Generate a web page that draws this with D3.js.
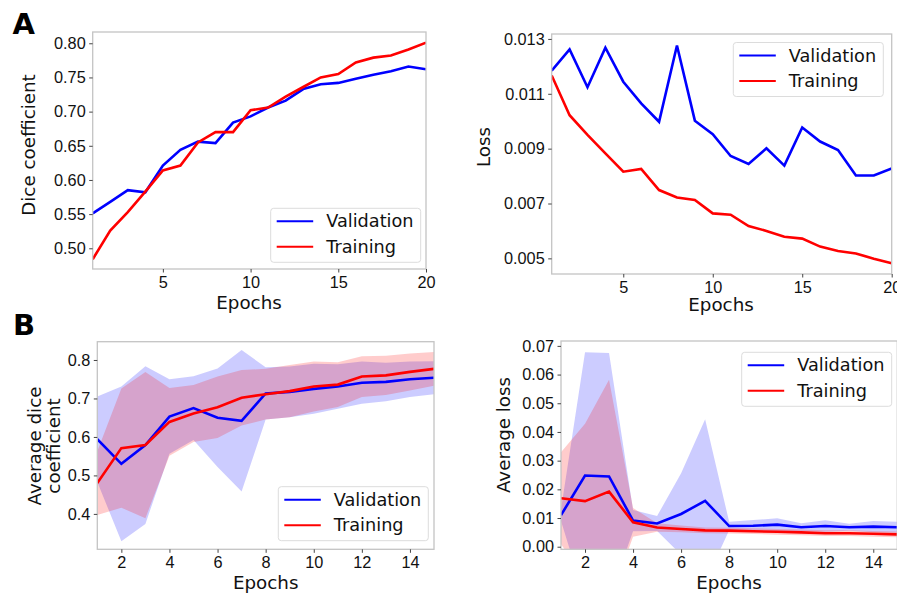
<!DOCTYPE html>
<html>
<head>
<meta charset="utf-8">
<script src="https://cdn.jsdelivr.net/npm/d3@7"></script>
<style>
  body { margin: 0; background: #fff; }
  svg { font-family: "DejaVu Sans", sans-serif; }
</style>
</head>
<body>
<div id="chart"></div>
<script>
// epochs
const epochsA = [1, 2, 3, 4, 5, 6, 7, 8, 9, 10, 11, 12, 13, 14, 15, 16, 17, 18, 19, 20];
const epochsB = [1, 2, 3, 4, 5, 6, 7, 8, 9, 10, 11, 12, 13, 14, 15];

// panel A, left: dice coefficient
const diceVal = [0.551, 0.568, 0.585, 0.582, 0.621, 0.644, 0.656, 0.654, 0.684, 0.693,
  0.706, 0.716, 0.733, 0.740, 0.742, 0.748, 0.754, 0.759, 0.766, 0.762];
const diceTrain = [0.484, 0.526, 0.553, 0.583, 0.614, 0.621, 0.655, 0.670, 0.670, 0.702,
  0.706, 0.722, 0.736, 0.750, 0.755, 0.772, 0.779, 0.782, 0.791, 0.801];

// panel A, right: loss
const lossVal = [0.01184, 0.01262, 0.01124, 0.01268, 0.01144, 0.01065, 0.00998, 0.01276, 0.01002, 0.00953,
  0.00873, 0.00844, 0.00901, 0.00838, 0.00977, 0.00926, 0.00895, 0.00802, 0.00802, 0.00828];
const lossTrain = [0.01167, 0.01022, 0.0095, 0.00883, 0.00816, 0.00826, 0.00749, 0.00722, 0.00713, 0.00664,
  0.00659, 0.00618, 0.006, 0.00579, 0.00572, 0.00543, 0.00527, 0.00518, 0.00499, 0.00482];

// panel B, left: average dice (mean and spread)
const avgDiceVal = [0.594, 0.530, 0.579, 0.653, 0.675, 0.650, 0.642, 0.713, 0.717, 0.725, 0.731, 0.741, 0.743, 0.750, 0.754];
const avgDiceValSd = [0.111, 0.201, 0.205, 0.097, 0.083, 0.128, 0.184, 0.068, 0.066, 0.065, 0.058, 0.055, 0.050, 0.046, 0.043];
const avgDiceTrain = [0.480, 0.571, 0.579, 0.639, 0.661, 0.677, 0.702, 0.711, 0.719, 0.731, 0.736, 0.757, 0.760, 0.769, 0.777];
const avgDiceTrainSd = [0.083, 0.155, 0.190, 0.088, 0.074, 0.080, 0.072, 0.066, 0.068, 0.065, 0.058, 0.053, 0.051, 0.048, 0.044];

// panel B, right: average loss (mean and spread)
const avgLossVal = [0.0110, 0.0248, 0.0245, 0.0091, 0.0081, 0.0114, 0.0160, 0.0072, 0.0073, 0.0077, 0.0068, 0.0072, 0.0068, 0.0070, 0.0068];
const avgLossValSd = [0.002, 0.043, 0.043, 0.0037, 0.0026, 0.0142, 0.0284, 0.0015, 0.002, 0.0022, 0.0014, 0.002, 0.0012, 0.002, 0.0019];
const avgLossTrain = [0.0169, 0.0159, 0.0192, 0.0085, 0.0067, 0.0062, 0.0057, 0.0056, 0.0054, 0.0052, 0.0050, 0.0047, 0.0047, 0.0045, 0.0043];
const avgLossTrainSd = [0.016, 0.027, 0.039, 0.005, 0.0015, 0.0012, 0.001, 0.001, 0.001, 0.001, 0.001, 0.001, 0.001, 0.001, 0.001];

const ticksA = [5, 10, 15, 20];
const ticksB = [2, 4, 6, 8, 10, 12, 14];
const diceTicks = [0.50, 0.55, 0.60, 0.65, 0.70, 0.75, 0.80];
const lossTicks = [0.005, 0.007, 0.009, 0.011, 0.013];
const avgDiceTicks = [0.4, 0.5, 0.6, 0.7, 0.8];
const avgLossTicks = [0.00, 0.01, 0.02, 0.03, 0.04, 0.05, 0.06, 0.07];

const seriesNames = ['Validation', 'Training'];

const w = 897;
const h = 593;
const BLUE = '#0000ff';
const RED = '#ff0000';

const svg = d3.select('#chart')
  .append('svg')
  .attr('width', w)
  .attr('height', h);

let clipId = 0;

function drawPanel(p) {
  const x = d3.scaleLinear().domain(p.xDomain).range(p.xRange);
  const y = d3.scaleLinear().domain(p.yDomain).range(p.yRange);
  const g = svg.append('g');

  const id = 'clip' + (clipId++);
  svg.append('clipPath').attr('id', id)
    .append('rect')
    .attr('x', p.xRange[0]).attr('y', p.yRange[1])
    .attr('width', p.xRange[1] - p.xRange[0])
    .attr('height', p.yRange[0] - p.yRange[1]);

  const plot = g.append('g').attr('clip-path', `url(#${id})`);

  // shaded bands first (validation then training)
  if (p.bands) {
    const area = d3.area()
      .x((d) => x(d.e))
      .y0((d) => y(d.m - d.s))
      .y1((d) => y(d.m + d.s));
    p.bands.forEach((b) => {
      const rows = p.epochs.map((e, i) => ({ e: e, m: b.mean[i], s: b.sd[i] }));
      plot.append('path')
        .datum(rows)
        .attr('d', area)
        .attr('fill', b.color)
        .attr('fill-opacity', 0.2);
    });
  }

  const line = d3.line()
    .x((d) => x(d.e))
    .y((d) => y(d.v));

  p.lines.forEach((l) => {
    plot.append('path')
      .datum(p.epochs.map((e, i) => ({ e: e, v: l.values[i] })))
      .attr('d', line)
      .attr('fill', 'none')
      .attr('stroke', l.color)
      .attr('stroke-width', 2.6)
      .attr('stroke-linejoin', 'miter');
  });

  // frame
  g.append('rect')
    .attr('x', p.xRange[0]).attr('y', p.yRange[1])
    .attr('width', p.xRange[1] - p.xRange[0])
    .attr('height', p.yRange[0] - p.yRange[1])
    .attr('fill', 'none')
    .attr('stroke', '#c4c4c4')
    .attr('stroke-width', 1.3);

  const xAxis = d3.axisBottom(x)
    .tickValues(p.xTicks)
    .tickSize(3.5)
    .tickPadding(3.5)
    .tickSizeOuter(0)
    .tickFormat(d3.format('d'));

  const yAxis = d3.axisLeft(y)
    .tickValues(p.yTicks)
    .tickSize(3.5)
    .tickPadding(3.5)
    .tickSizeOuter(0)
    .tickFormat(d3.format(p.yFormat));

  const gx = g.append('g')
    .attr('transform', `translate(0,${p.yRange[0]})`)
    .call(xAxis);
  const gy = g.append('g')
    .attr('transform', `translate(${p.xRange[0]},0)`)
    .call(yAxis);

  [gx, gy].forEach((ax) => {
    ax.select('.domain').remove();
    ax.selectAll('.tick line').attr('stroke', '#444');
    ax.selectAll('.tick text')
      .attr('fill', '#111')
      .style('font-size', '16.3px');
  });

  g.append('text')
    .attr('x', p.xLabelPos[0])
    .attr('y', p.xLabelPos[1])
    .attr('text-anchor', 'middle')
    .attr('fill', '#111')
    .style('font-size', '18.3px')
    .text('Epochs');

  const yl = g.append('text')
    .attr('transform', `translate(${p.yLabelPos[0]},${p.yLabelPos[1]}) rotate(-90)`)
    .attr('text-anchor', 'middle')
    .attr('fill', '#111')
    .style('font-size', '18.3px');
  p.yLabel.forEach((t, i) => {
    yl.append('tspan')
      .attr('x', 0)
      .attr('dy', i === 0 ? 0 : 18.5)
      .text(t);
  });

  // legend
  const lg = g.append('g').attr('transform', `translate(${p.legend[0]},${p.legend[1]})`);
  lg.append('rect')
    .attr('width', 150).attr('height', 54)
    .attr('rx', 3)
    .attr('fill', '#fff').attr('fill-opacity', 0.8)
    .attr('stroke', '#dcdcdc').attr('stroke-width', 1);
  seriesNames.forEach((name, i) => {
    const cy = 13 + i * 25.5;
    lg.append('line')
      .attr('x1', 6).attr('x2', 42.5)
      .attr('y1', cy).attr('y2', cy)
      .attr('stroke', i === 0 ? BLUE : RED)
      .attr('stroke-width', 2);
    lg.append('text')
      .attr('x', 55.5).attr('y', cy + 6.2)
      .attr('fill', '#111')
      .style('font-size', '17.7px')
      .text(name);
  });
}

drawPanel({
  epochs: epochsA,
  xDomain: [1, 20], xRange: [92.7, 426],
  yDomain: [0.4697, 0.8165], yRange: [269, 32],
  xTicks: ticksA, yTicks: diceTicks, yFormat: '.2f',
  lines: [{ values: diceVal, color: BLUE }, { values: diceTrain, color: RED }],
  xLabelPos: [249, 308.5], yLabel: ['Dice coefficient'], yLabelPos: [34.5, 145],
  legend: [270.7, 208.3]
});

drawPanel({
  epochs: epochsA,
  xDomain: [1, 20], xRange: [551.7, 891.7],
  yDomain: [0.00443, 0.01318], yRange: [274, 34],
  xTicks: ticksA, yTicks: lossTicks, yFormat: '.3f',
  lines: [{ values: lossVal, color: BLUE }, { values: lossTrain, color: RED }],
  xLabelPos: [721, 310.5], yLabel: ['Loss'], yLabelPos: [490, 147],
  legend: [733.3, 42.5]
});

drawPanel({
  epochs: epochsB,
  xDomain: [1, 15], xRange: [97.3, 434],
  yDomain: [0.308, 0.8475], yRange: [549.3, 341.7],
  xTicks: ticksB, yTicks: avgDiceTicks, yFormat: '.1f',
  bands: [{ mean: avgDiceVal, sd: avgDiceValSd, color: BLUE }, { mean: avgDiceTrain, sd: avgDiceTrainSd, color: RED }],
  lines: [{ values: avgDiceVal, color: BLUE }, { values: avgDiceTrain, color: RED }],
  xLabelPos: [265.7, 588.5], yLabel: ['Average dice', 'coefficient'], yLabelPos: [41, 446],
  legend: [278.3, 486.7]
});

drawPanel({
  epochs: epochsB,
  xDomain: [1, 15], xRange: [561, 897.3],
  yDomain: [-0.0009, 0.0717], yRange: [549.3, 341],
  xTicks: ticksB, yTicks: avgLossTicks, yFormat: '.2f',
  bands: [{ mean: avgLossVal, sd: avgLossValSd, color: BLUE }, { mean: avgLossTrain, sd: avgLossTrainSd, color: RED }],
  lines: [{ values: avgLossVal, color: BLUE }, { values: avgLossTrain, color: RED }],
  xLabelPos: [729, 589], yLabel: ['Average loss'], yLabelPos: [510, 435],
  legend: [741.7, 352.3]
});

// panel letters
svg.append('text')
  .attr('x', 12.5).attr('y', 34.3)
  .style('font-size', '29px').style('font-weight', 'bold')
  .text('A');
svg.append('text')
  .attr('x', 13).attr('y', 335)
  .style('font-size', '29px').style('font-weight', 'bold')
  .text('B');
</script>
</body>
</html>
